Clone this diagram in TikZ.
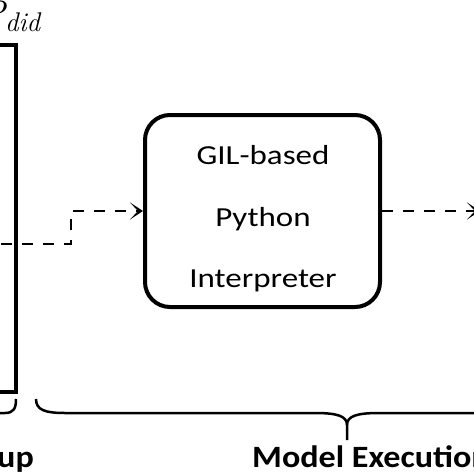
\documentclass[tikz,border=0pt]{standalone}
\usepackage{fontspec}
\newfontfamily\boxfont{Carlito}[FakeStretch=1.2]
\newfontfamily\labfont{Carlito}[FakeStretch=1.1]
\usetikzlibrary{arrows.meta}
\tikzset{
  x=1pt, y=-1pt,
  frame/.style={draw, line width=4pt, inner sep=0pt},
  roundbox/.style={frame, rounded corners=25pt, minimum width=235pt, minimum height=192pt},
  boxtext/.style={align=center, inner sep=0pt, font=\boxfont\fontsize{27.5}{61.5}\selectfont},
  dasharrow/.style={line width=2.7pt, dash pattern=on 11pt off 10pt, -{Stealth[length=13pt,width=17pt,inset=8pt]}},
  bracepath/.style={line width=2.5pt},
  phase/.style={inner sep=0pt, font=\labfont\bfseries\fontsize{31}{36}\selectfont}
}
\begin{document}
\begin{tikzpicture}
\useasboundingbox (0,0) rectangle (474,474);
\clip (0,0) rectangle (474,474);
% left component (mostly outside the view)
\node[frame, minimum width=116pt, minimum height=347pt] (setupbox) at (-42,218.5) {};
\node[anchor=base west, inner sep=0pt, font=\itshape\fontsize{36}{40}\selectfont] (pdid) at (-19,25.6) {P\raisebox{-5.4pt}{\fontsize{27}{30}\selectfont did}};
% interpreter box
\node[roundbox] (interp) at (262.5,211) {};
\node[boxtext] (interptext) at (263,219) {GIL-based\\Python\\Interpreter};
% dashed connectors
\coordinate (start) at (-20,244);
\coordinate (end) at (480,211);
\draw[dasharrow] (start) -- (71,244) |- (interp.west);
\draw[dasharrow] (interp.east) -- (end);
% braces
\draw[bracepath] (-10,413) -- (5,413) .. controls (14,413) and (16,408) .. (16,399);
\draw[bracepath] (36,399) .. controls (36,410) and (45,413) .. (65,413) -- (315,413)
  .. controls (337,413) and (347,416) .. (347,425) -- (347,440);
\draw[bracepath] (347,425) .. controls (347,416) and (357,413) .. (379,413) -- (490,413);
% phase labels
\node[phase, anchor=base east] (setuplab) at (34,467) {Setup};
\node[phase, anchor=base west] (execlab) at (252,467) {Model Execution};
\end{tikzpicture}
\end{document}
